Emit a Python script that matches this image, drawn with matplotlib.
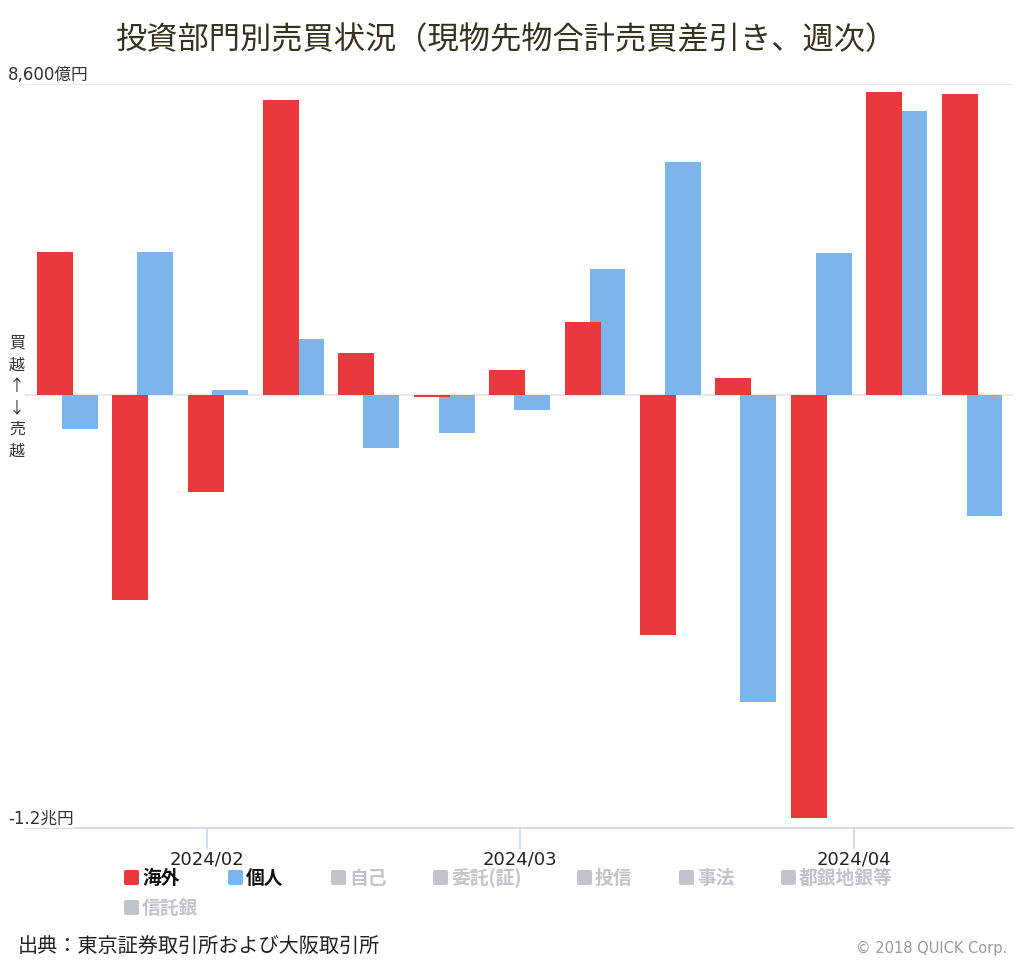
import numpy as np
import pandas as pd
import matplotlib
matplotlib.use("Agg")
import matplotlib.pyplot as plt
import matplotlib.dates as mdates
import matplotlib.transforms as mtransforms
from matplotlib.patches import FancyBboxPatch

plt.rcParams['font.family'] = ['DejaVu Sans', 'Noto Sans CJK JP']
CJK = ['Noto Sans CJK JP', 'DejaVu Sans']

# ---- data (100M yen, weekly net buy/sell) ----
weeks = pd.date_range('2024-01-19', periods=13, freq='7D')
foreign = [3960, -5680, -2690, 8170, 1140, -60, 690, 2020, -6650, 470, -11720, 8370, 8310]
individual = [-940, 3960, 140, 1550, -1470, -1050, -420, 3490, 6430, -8500, 3910, 7840, -3350]
month_ticks = pd.to_datetime(['2024-02-01', '2024-03-01', '2024-04-01'])
month_labels = ['2024/02', '2024/03', '2024/04']
y_min, y_max = -12000, 8600
y_labels = ['-1.2兆円', '8,600億円']

legend_items = ['海外', '個人', '自己', '委託(証)', '投信', '事法', '都銀地銀等', '信託銀']
legend_active = [True, True, False, False, False, False, False, False]

RED = '#e8393c'
BLUE = '#7cb5ec'
GREY = '#c3c3cd'

fig = plt.figure(figsize=(10.24, 9.64), dpi=100, facecolor='white')
W, H = 1024, 964
ax = fig.add_axes([25 / W, 1 - 828 / H, (1013 - 25) / W, (828 - 84) / H])

x = mdates.date2num(weeks)
bw = 3.34      # days
off = 1.155    # days
ax.bar(x + off, individual, width=bw, color=BLUE, zorder=2)
ax.bar(x - off, foreign, width=bw, color=RED, zorder=3)

ax.set_xlim(x[0] - 3.92, x[0] + 87.8)
ax.set_ylim(y_min, y_max)

# grid lines
ax.axhline(y_max, color='#e6e6e6', lw=1.2, zorder=0)
ax.axhline(0, color='#e6e6e6', lw=1.2, zorder=1)

for s in ['top', 'right', 'left']:
    ax.spines[s].set_visible(False)
ax.spines['bottom'].set_color('#ccd6eb')
ax.spines['bottom'].set_linewidth(1.2)
ax.set_yticks([])
ax.set_xticks(mdates.date2num(month_ticks))
ax.set_xticklabels(month_labels, fontsize=13, color='#222222')
ax.tick_params(axis='x', length=15, width=1.2, color='#ccd6eb', pad=1)

# y-axis end labels
trans = mtransforms.blended_transform_factory(fig.transFigure, ax.transData)
for v, lab in zip([y_min, y_max], y_labels):
    ax.text(8 / W, v, lab, transform=trans, ha='left', va='bottom',
            fontsize=12, color='#333333', family=['DejaVu Sans', 'Noto Sans CJK JP'],
            bbox=dict(facecolor='white', edgecolor='none', pad=0), zorder=5)

# vertical 買越↑↓売越
fig.text(17 / W, 1 - 397 / H, '買\n越\n↑\n↓\n売\n越', ha='center', va='center',
         fontsize=11.5, color='#333333', family=CJK, linespacing=1.35)

# title
fig.text(506 / W, 1 - 40 / H, '投資部門別売買状況（現物先物合計売買差引き、週次）',
         ha='center', va='center', fontsize=22.5, color='#333320', family=CJK)

# legend
leg_x = [123, 227, 330, 432, 576, 678, 780, 123]
leg_y = [878, 878, 878, 878, 878, 878, 878, 908]
leg_colors = [RED, BLUE] + [GREY] * 6
for name, on, lx, ly, c in zip(legend_items, legend_active, leg_x, leg_y, leg_colors):
    sq = FancyBboxPatch(((lx + 1) / W, 1 - (ly + 7) / H), 15 / W, 15 / H,
                        boxstyle='round,pad=0,rounding_size=0.002',
                        transform=fig.transFigure, facecolor=c, edgecolor='none')
    fig.patches.append(sq)
    fig.text((lx + 19) / W, 1 - ly / H, name, ha='left', va='center',
             fontsize=13.5, fontweight='bold', family=CJK,
             color='#111111' if on else GREY)

# footer
fig.text(18 / W, 1 - 946 / H, '出典：東京証券取引所および大阪取引所', ha='left', va='center',
         fontsize=14.5, color='#222222', family=CJK)
fig.text(1007 / W, 1 - 948 / H, '© 2018 QUICK Corp.', ha='right', va='center',
         fontsize=10.5, color='#999999')

fig.savefig('out.png', dpi=100, facecolor='white')
